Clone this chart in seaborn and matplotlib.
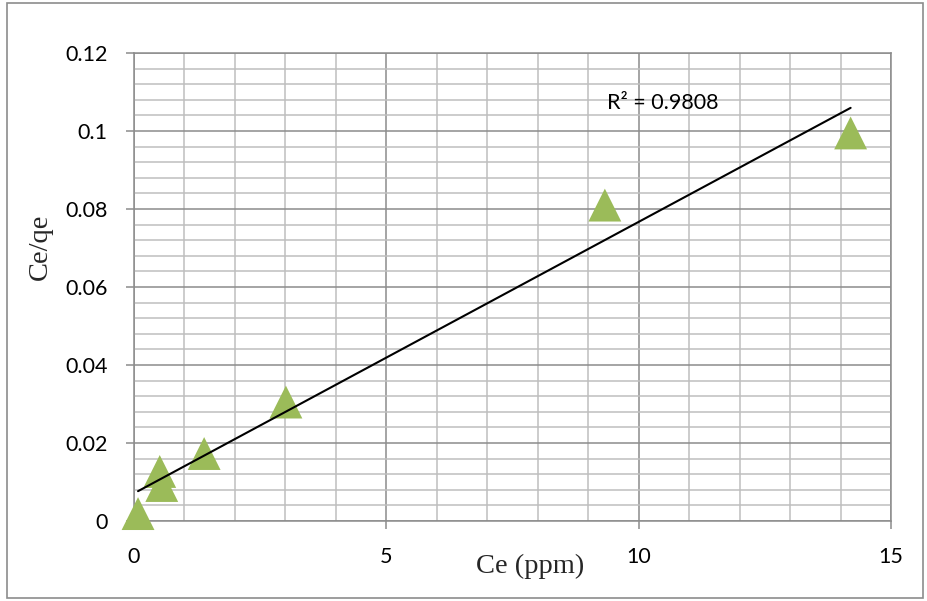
import numpy as np
import pandas as pd
import matplotlib
matplotlib.use("Agg")
import matplotlib.pyplot as plt
from matplotlib.patches import Rectangle
from matplotlib.ticker import MultipleLocator
import seaborn as sns

# Data
ce = [0.08, 0.51, 0.55, 1.39, 3.01, 9.33, 14.2]
ce_qe = [0.0019, 0.0127, 0.0091, 0.0173, 0.0305, 0.081, 0.0995]
x_ticks = [0, 5, 10, 15]
y_ticks = [0, 0.02, 0.04, 0.06, 0.08, 0.1, 0.12]
y_tick_labels = ["0", "0.02", "0.04", "0.06", "0.08", "0.1", "0.12"]
r2_text = "R² = 0.9808"

sns.set_theme(style="white")
plt.rcParams["font.family"] = ["Lato", "DejaVu Sans"]

W, H = 928, 601
fig = plt.figure(figsize=(W / 100, H / 100), dpi=100)
L, R, T, B = 134, 891, 53, 521
ax = fig.add_axes([L / W, 1 - B / H, (R - L) / W, (B - T) / H])

df = pd.DataFrame({"Ce": ce, "Ce/qe": ce_qe})
sns.scatterplot(data=df, x="Ce", y="Ce/qe", marker="^", s=560, color="#9BBB59",
                edgecolor="none", linewidth=0, ax=ax, zorder=3, clip_on=False)

slope, intercept = np.polyfit(ce, ce_qe, 1)
xs = np.array([min(ce), max(ce)])
fit = pd.DataFrame({"Ce": xs, "fit": slope * xs + intercept})
sns.lineplot(data=fit, x="Ce", y="fit", color="black", linewidth=1.5, ax=ax, zorder=4)

ax.set_xlim(0, 15)
ax.set_ylim(0, 0.12)
ax.xaxis.set_major_locator(MultipleLocator(5))
ax.xaxis.set_minor_locator(MultipleLocator(1))
ax.yaxis.set_major_locator(MultipleLocator(0.02))
ax.yaxis.set_minor_locator(MultipleLocator(0.004))
ax.set_xticks(x_ticks)
ax.set_yticks(y_ticks)
ax.set_yticklabels(y_tick_labels)

major_c = "#8C8C8C"
minor_c = "#BEBEBE"
ax.grid(which="major", color=major_c, linewidth=1.1, zorder=0)
ax.grid(which="minor", color=minor_c, linewidth=1.1, zorder=0)
ax.set_axisbelow(True)
for s in ax.spines.values():
    s.set_color(major_c)
    s.set_linewidth(1.1)

ax.tick_params(axis="both", which="major", length=6, width=1.1, color=major_c,
               labelsize=15.5, labelcolor="black", direction="out")
ax.tick_params(axis="x", which="major", pad=13, bottom=True)
ax.tick_params(axis="y", which="major", pad=13, left=True)
ax.tick_params(which="minor", length=0)

ax.set_xlabel("Ce (ppm)", family="Liberation Serif", fontsize=20.5, va="center")
ax.xaxis.set_label_coords((530 - L) / (R - L), (B - 566) / (B - T))
ax.set_ylabel("Ce/qe", family="Liberation Serif", fontsize=20.5, va="center")
ax.yaxis.set_label_coords((40 - L) / (R - L), (B - 247) / (B - T))

ax.text(607 / W, 1 - 103 / H, r2_text, transform=fig.transFigure, fontsize=15.5,
        ha="left", va="center", color="black")

fig.patches.append(Rectangle((7 / W, 1 - 598 / H), (923 - 7) / W, (598 - 3) / H,
                             transform=fig.transFigure, fill=False,
                             edgecolor="#8C8C8C", linewidth=1.2))

fig.savefig("out.png", dpi=100)
